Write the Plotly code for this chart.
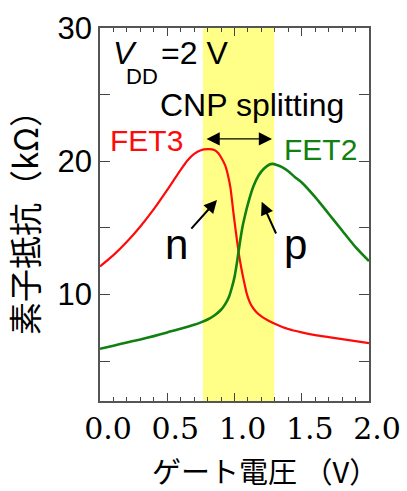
import plotly.graph_objects as go

# Gate voltage (V) and device resistance (kOhm)
fet3_vg = [0.0, 0.1, 0.2, 0.3, 0.4, 0.5, 0.55, 0.6, 0.65, 0.7, 0.75, 0.8, 0.85, 0.88, 0.9,
           0.93, 0.95, 0.97, 0.99, 1.01, 1.03, 1.05, 1.07, 1.09, 1.11, 1.13, 1.16, 1.2, 1.25,
           1.3, 1.4, 1.5, 1.6, 1.7, 1.8, 1.9, 2.0]
fet3_r = [12.1, 12.95, 13.95, 15.1, 16.4, 17.85, 18.6, 19.35, 20.05, 20.55, 20.82, 20.9, 20.85, 20.6, 20.3,
          19.7, 19.0, 18.0, 16.3, 14.7, 13.2, 12.0, 11.0, 10.1, 9.5, 9.1, 8.7, 8.35, 8.05,
          7.8, 7.4, 7.15, 6.95, 6.8, 6.65, 6.5, 6.35]

fet2_vg = [0.0, 0.1, 0.2, 0.3, 0.4, 0.5, 0.6, 0.7, 0.75, 0.8, 0.85, 0.9, 0.93, 0.96, 0.98,
           1.0, 1.02, 1.04, 1.06, 1.08, 1.1, 1.14, 1.18, 1.22, 1.26, 1.28, 1.32, 1.35, 1.4,
           1.45, 1.5, 1.6, 1.7, 1.8, 1.9, 2.0]
fet2_r = [5.92, 6.15, 6.4, 6.62, 6.87, 7.15, 7.42, 7.72, 7.9, 8.12, 8.42, 8.85, 9.25, 9.85, 10.5,
          11.3, 12.5, 13.9, 15.1, 16.0, 16.8, 18.1, 18.95, 19.45, 19.75, 19.8, 19.7, 19.57, 19.25,
          18.8, 18.4, 17.3, 16.06, 14.8, 13.55, 12.5]

cnp_band = [0.765, 1.295]
x_ticks = [0.0, 0.5, 1.0, 1.5, 2.0]
y_ticks = [10, 20, 30]
y_minor = [5, 15, 25]

fig = go.Figure()
fig.add_trace(go.Scatter(x=fet3_vg, y=fet3_r, mode="lines", name="FET3",
                         line=dict(color="#ff0a0a", width=2.2, shape="spline", smoothing=0.6)))
fig.add_trace(go.Scatter(x=fet2_vg, y=fet2_r, mode="lines", name="FET2",
                         line=dict(color="#108010", width=2.6, shape="spline", smoothing=0.6)))

fig.add_shape(type="rect", xref="x", yref="paper", x0=cnp_band[0], x1=cnp_band[1], y0=0, y1=1,
              fillcolor="#ffff88", line=dict(width=0), layer="below")

sans = "Liberation Sans, Arial, sans-serif"
cjk = "Noto Sans CJK JP"
ann = []
def txt(x, y, s, size, color="black", xanchor="center", yanchor="middle", family=sans):
    ann.append(dict(x=x, y=y, xref="x", yref="y", text=s, showarrow=False,
                    xanchor=xanchor, yanchor=yanchor,
                    font=dict(family=family, size=size, color=color)))

txt(0.08, 28.1, "<i>V</i>", 32, xanchor="left")
txt(0.18, 26.35, "DD", 22, xanchor="left")
txt(0.44, 28.1, "=2 V", 32, xanchor="left")
txt(1.13, 24.2, "CNP splitting", 32)
txt(0.342, 21.55, "FET3", 30, color="#ff0a0a")
txt(1.636, 20.9, "FET2", 30, color="#108010")
txt(0.572, 13.75, "n", 42)
txt(1.45, 13.75, "p", 42)

def arrow(x, y, ax, ay, side="end", size=1.3, width=2):
    ann.append(dict(x=x, y=y, ax=ax, ay=ay, xref="x", yref="y", axref="x", ayref="y",
                    text="", showarrow=True, arrowhead=2, arrowsize=size, arrowwidth=width,
                    arrowcolor="black", arrowside=side, standoff=0, startstandoff=0))

arrow(1.279, 21.67, 0.781, 21.67, side="end+start", size=2.2, width=1.2)
arrow(0.87, 17.09, 0.669, 14.83)
arrow(1.202, 16.96, 1.314, 14.46)

# x-axis title (placed right of centre, as in the original figure)
ann.append(dict(x=0.613, y=-0.185, xref="paper", yref="paper", text="ゲート電圧 （V）",
                showarrow=False, xanchor="center", yanchor="middle",
                font=dict(family=cjk, size=29, color="black")))

fig.update_layout(
    width=407, height=491,
    margin=dict(l=100, r=38, t=28, b=90),
    plot_bgcolor="white", paper_bgcolor="white",
    showlegend=False,
    annotations=ann,
    xaxis=dict(range=[0, 2], tickvals=x_ticks, ticktext=[f"{v:.1f}" for v in x_ticks],
               automargin=False,
               ticks="inside", ticklen=8, tickwidth=1.2, tickcolor="#444",
               minor=dict(dtick=0.1, ticks="inside", ticklen=4, tickwidth=1, tickcolor="#444"),
               showline=True, linecolor="#555", linewidth=1.5, mirror="allticks",
               showgrid=False, zeroline=False, ticklabelshift=8,
               tickfont=dict(family="DejaVu Serif", size=30, color="black")),
    yaxis=dict(range=[2, 30], tickvals=y_ticks,
               automargin=False,
               ticks="inside", ticklen=10, tickwidth=1.2, tickcolor="#444",
               minor=dict(tickvals=y_minor, ticks="inside", ticklen=10, tickwidth=1.2, tickcolor="#444"),
               showline=True, linecolor="#555", linewidth=1.5, mirror="allticks",
               showgrid=False, zeroline=False,
               tickfont=dict(family=sans, size=31, color="black"),
               title=dict(text="素子抵抗（kΩ）", standoff=17,
                          font=dict(family=cjk, size=33, color="black"))),
)

fig.write_html("out.html", config={"displayModeBar": False},
               post_script="document.body.style.margin='0';document.body.style.overflow='hidden';")
